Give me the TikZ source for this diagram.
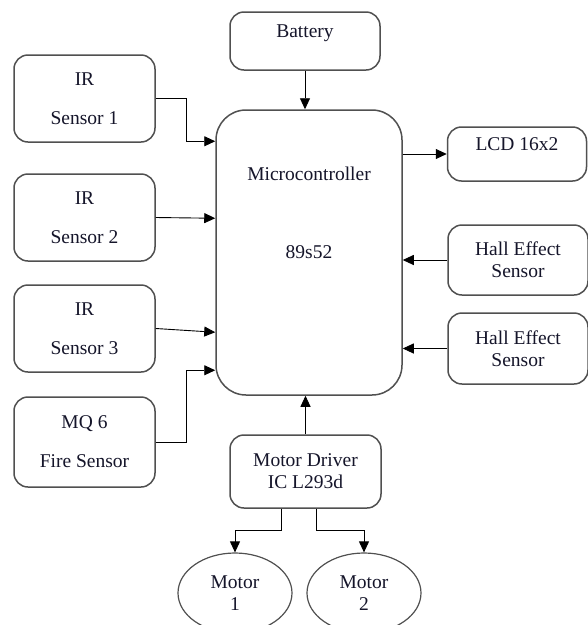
\documentclass[tikz,border=0pt]{standalone}
\usepackage{fontspec}
\setmainfont{Liberation Serif}
\usetikzlibrary{arrows.meta,positioning,calc,shapes.geometric}
\definecolor{Edge}{HTML}{505050}
\definecolor{Ink}{HTML}{15152A}
\tikzset{
 block/.style={draw=Edge, line width=1.5pt, rounded corners=14pt, fill=white, align=center, text=Ink, inner sep=2pt, font=\fontsize{19.5}{22}\selectfont},
 sensorblock/.style={block, minimum width=141pt, minimum height=87pt},
 motorblock/.style={ellipse, draw=Edge, line width=1.2pt, fill=white, align=center, text=Ink, minimum width=114pt, minimum height=80pt, inner sep=0pt, font=\fontsize{19.5}{22}\selectfont},
 arrow/.style={-{Triangle[length=11pt,width=10pt]}, draw=black, line width=0.9pt}
}
\begin{document}
\begin{tikzpicture}[x=1pt,y=-1pt]
\useasboundingbox (0,0) rectangle (588,625);
\clip (0,0) rectangle (588,625);
\node[block, minimum width=186pt, minimum height=285pt, rounded corners=30pt, text depth=79pt] (mc) at (309,252.5) {Microcontroller\\[56pt]89s52};
\node[block, minimum width=150pt, minimum height=58pt, text height=13pt, text depth=20pt] (battery) at (305,41) {Battery};
\foreach \n/\y in {1/98.5,2/217.5,3/328.5}{
 \node[sensorblock] (ir\n) at (84.5,\y) {IR\\[17pt]Sensor \n};
}
\node[sensorblock, minimum height=90pt] (mq6) at (84.5,442) {MQ 6\\[17pt]Fire Sensor};
\node[block, minimum width=139pt, minimum height=54pt, text height=13pt, text depth=21pt] (lcd) at (517,154) {LCD 16x2};
\node[block, minimum width=140pt, minimum height=70pt] (hall1) at (518,260) {Hall Effect\\Sensor};
\node[block, minimum width=140pt, minimum height=71pt] (hall2) at (518,348.5) {Hall Effect\\Sensor};
\node[block, minimum width=151pt, minimum height=73pt] (driver) at (305.5,471.5) {Motor Driver\\IC L293d};
\node[motorblock] (motor1) at (235,593) {Motor\\1};
\node[motorblock] (motor2) at (364,593) {Motor\\2};
% inputs
\draw[arrow] (battery.south) -- (battery.south |- mc.north);
\draw[arrow] (ir1.east) -- ++(31,0) |- ($(mc.north west)+(0,32)$);
\draw[arrow] (ir2.east) -- ($(mc.north west)+(0,109)$);
\draw[arrow] (ir3.east) -- ($(mc.north west)+(0,223)$);
\draw[arrow] (mq6.east) -- ++(31,0) |- ($(mc.north west)+(0,261)$);
\draw[arrow] (hall1.west) -- (mc.east |- hall1.west);
\draw[arrow] (hall2.west) -- (mc.east |- hall2.west);
\draw[arrow] (driver.north) -- (driver.north |- mc.south);
% outputs
\draw[arrow] (mc.east |- lcd.west) -- (lcd.west);
\draw[arrow] ($(driver.south)+(-24,0)$) -- ++(0,22) -| (motor1.north);
\draw[arrow] ($(driver.south)+(11,0)$) -- ++(0,22) -| (motor2.north);
\end{tikzpicture}
\end{document}
